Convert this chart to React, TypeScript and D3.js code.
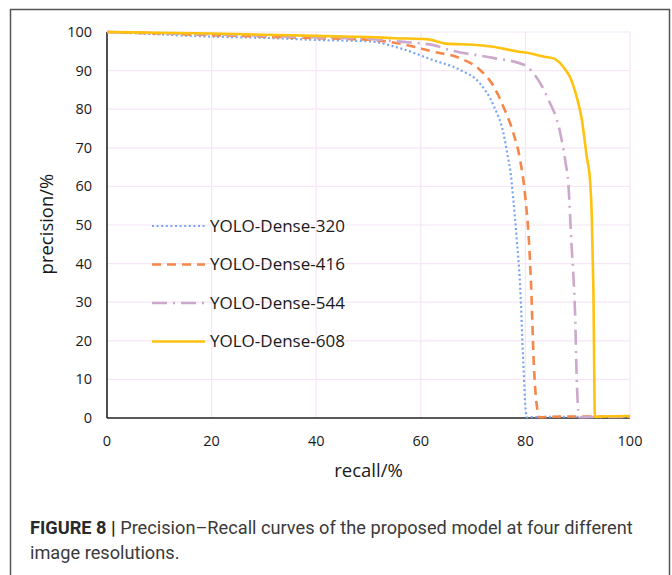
import React, { useEffect, useRef } from 'react';
import * as d3 from 'd3';

// values (recall %, precision %)
const recall320 = [0, 10, 20, 30, 41, 50, 56, 62.4, 67.5, 71.3, 73.9, 75.8, 76.7, 77.1, 77.7, 78.3, 79, 79.6, 80.1, 80.3, 85, 91, 100];
const prec320 = [100, 99.4, 98.8, 98.5, 97.9, 97.6, 95.8, 92.7, 90.2, 86.7, 81, 73.8, 67.3, 64.2, 56.5, 47, 34, 14.2, 1.3, 0.2, 0.3, 0.3, 0.3];

const recall416 = [0, 10, 20, 30, 40, 50, 56, 62.4, 67.5, 71.3, 73.9, 75.8, 77.7, 79, 80, 80.7, 81.1, 81.6, 82.3, 82.6, 87, 93, 100];
const prec416 = [100, 99.6, 99.2, 98.8, 98.4, 98, 97, 94.9, 93.2, 90.2, 86, 80.6, 73.8, 66.8, 57, 45.3, 34, 14.2, 2, 0.2, 0.4, 0.4, 0.3];

const recall544 = [0, 10, 20, 30, 40, 50, 56, 62.4, 65.6, 73.8, 79.7, 81.5, 84.3, 86.6, 87.7, 88.2, 88.8, 89.3, 89.5, 89.8, 90.1, 90.4, 95, 100];
const prec544 = [100, 99.7, 99.4, 99, 98.6, 98.2, 97.5, 96.6, 95.3, 93.3, 91.5, 89.4, 82.8, 74.2, 66, 60.9, 45.3, 33.7, 27.2, 10.7, 2, 0.2, 0.3, 0.3];

const recall608 = [0, 10, 20, 30, 40, 50, 55, 61.4, 64.8, 70, 73.8, 78.7, 80, 83.6, 85.5, 86.6, 87.5, 88.5, 89.8, 90.8, 91.7, 92.4, 92.7, 93, 93.3, 95, 100];
const prec608 = [100, 99.8, 99.6, 99.3, 99, 98.7, 98.4, 98.1, 97, 96.7, 96.2, 94.9, 94.7, 93.6, 93.1, 92, 90.5, 88.4, 83.2, 77.2, 68, 60.8, 52, 33, 0.3, 0.4, 0.5];

const seriesNames = ['YOLO-Dense-320', 'YOLO-Dense-416', 'YOLO-Dense-544', 'YOLO-Dense-608'];
const seriesColors = ['#78a5f2', '#f5874a', '#cba8cc', '#ffc20e'];
const seriesDash = ['2,2.6', '9,6', '15,6,2,6', null];
const seriesWidth = [2.2, 2.6, 2.6, 2.6];

const xTicks = [0, 20, 40, 60, 80, 100];
const yTicks = [0, 10, 20, 30, 40, 50, 60, 70, 80, 90, 100];

const W = 672;
const H = 575;
const margin = { top: 32, right: 42, bottom: 157, left: 107 };

export default function App() {
  const ref = useRef<SVGSVGElement>(null);

  useEffect(() => {
    const svg = d3.select(ref.current);
    svg.selectAll('*').remove();

    const pw = W - margin.left - margin.right;
    const ph = H - margin.top - margin.bottom;

    const x = d3.scaleLinear().domain([0, 100]).range([0, pw]);
    const y = d3.scaleLinear().domain([0, 100]).range([ph, 0]);

    svg.append('rect')
      .attr('x', 10.5).attr('y', 9.5)
      .attr('width', 659).attr('height', 600)
      .attr('fill', '#fff')
      .attr('stroke', '#555')
      .attr('stroke-width', 1.5);

    const g = svg.append('g')
      .attr('transform', 'translate(' + margin.left + ',' + margin.top + ')');

    // gridlines
    g.append('g').selectAll('line')
      .data(yTicks.filter(d => d > 0))
      .join('line')
      .attr('x1', 0).attr('x2', pw)
      .attr('y1', d => y(d)).attr('y2', d => y(d))
      .attr('stroke', '#f6e6f6').attr('stroke-width', 1.2);

    g.append('g').selectAll('line')
      .data(xTicks.filter(d => d > 0))
      .join('line')
      .attr('x1', d => x(d)).attr('x2', d => x(d))
      .attr('y1', 0).attr('y2', ph)
      .attr('stroke', '#f6e6f6').attr('stroke-width', 1.2);

    // axes lines
    g.append('line').attr('x1', 0).attr('x2', 0).attr('y1', 0).attr('y2', ph)
      .attr('stroke', '#222').attr('stroke-width', 1.6);
    g.append('line').attr('x1', 0).attr('x2', pw).attr('y1', ph).attr('y2', ph)
      .attr('stroke', '#222').attr('stroke-width', 1.6);

    // tick labels
    g.append('g').selectAll('text')
      .data(yTicks)
      .join('text')
      .attr('x', -15)
      .attr('y', d => y(d))
      .attr('dy', '0.35em')
      .attr('text-anchor', 'end')
      .attr('font-family', 'Open Sans, sans-serif')
      .attr('font-size', 14.5)
      .attr('fill', '#1a1a1a')
      .text(d => d);

    g.append('g').selectAll('text')
      .data(xTicks)
      .join('text')
      .attr('x', d => x(d))
      .attr('y', ph + 23)
      .attr('dy', '0.35em')
      .attr('text-anchor', 'middle')
      .attr('font-family', 'Open Sans, sans-serif')
      .attr('font-size', 14.5)
      .attr('fill', '#1a1a1a')
      .text(d => d);

    // axis titles
    g.append('text')
      .attr('x', pw / 2)
      .attr('y', ph + 53)
      .attr('dy', '0.35em')
      .attr('text-anchor', 'middle')
      .attr('font-family', 'Open Sans, sans-serif')
      .attr('font-size', 18.5)
      .attr('fill', '#1a1a1a')
      .text('recall/%');

    g.append('text')
      .attr('transform', 'translate(' + (47 - margin.left) + ',' + (224 - margin.top) + ') rotate(-90)')
      .attr('dy', '0.35em')
      .attr('text-anchor', 'middle')
      .attr('font-family', 'Open Sans, sans-serif')
      .attr('font-size', 18.5)
      .attr('fill', '#1a1a1a')
      .text('precision/%');

    // curves
    const allRecall = [recall320, recall416, recall544, recall608];
    const allPrec = [prec320, prec416, prec544, prec608];

    const line = d3.line<[number, number]>()
      .x(d => x(d[0]))
      .y(d => y(d[1]))
      .curve(d3.curveMonotoneX);

    allRecall.forEach((rs, i) => {
      const pts = rs.map((r, j) => [r, allPrec[i][j]] as [number, number]);
      g.append('path')
        .datum(pts)
        .attr('fill', 'none')
        .attr('stroke', seriesColors[i])
        .attr('stroke-width', seriesWidth[i])
        .attr('stroke-dasharray', seriesDash[i])
        .attr('stroke-linejoin', 'round')
        .attr('d', line);
    });

    // legend
    const legend = g.append('g')
      .attr('transform', 'translate(' + (152 - margin.left) + ',' + (226 - margin.top) + ')');

    seriesNames.forEach((name, i) => {
      const row = legend.append('g').attr('transform', 'translate(0,' + (i * 38.5) + ')');
      row.append('line')
        .attr('x1', 0).attr('x2', 53)
        .attr('y1', 0).attr('y2', 0)
        .attr('stroke', seriesColors[i])
        .attr('stroke-width', seriesWidth[i])
        .attr('stroke-dasharray', seriesDash[i]);
      row.append('text')
        .attr('x', 58)
        .attr('y', 0)
        .attr('dy', '0.35em')
        .attr('font-family', 'Open Sans, sans-serif')
        .attr('font-size', 17)
        .attr('fill', '#1a1a1a')
        .text(name);
    });

    // caption
    const cap = svg.append('text')
      .attr('x', 30)
      .attr('y', 534)
      .attr('font-family', 'Roboto, sans-serif')
      .attr('font-size', 18.2)
      .attr('fill', '#3a3a3a');
    cap.append('tspan').attr('font-weight', 'bold').attr('fill', '#2a2a2a').text('FIGURE 8 | ');
    cap.append('tspan').text('Precision–Recall curves of the proposed model at four different');

    svg.append('text')
      .attr('x', 30)
      .attr('y', 559)
      .attr('font-family', 'Roboto, sans-serif')
      .attr('font-size', 18.2)
      .attr('fill', '#3a3a3a')
      .text('image resolutions.');
  }, []);

  return (
    <svg ref={ref} width={W} height={H}
         style={{ position: 'absolute', left: 0, top: 0, display: 'block' }} />
  );
}
